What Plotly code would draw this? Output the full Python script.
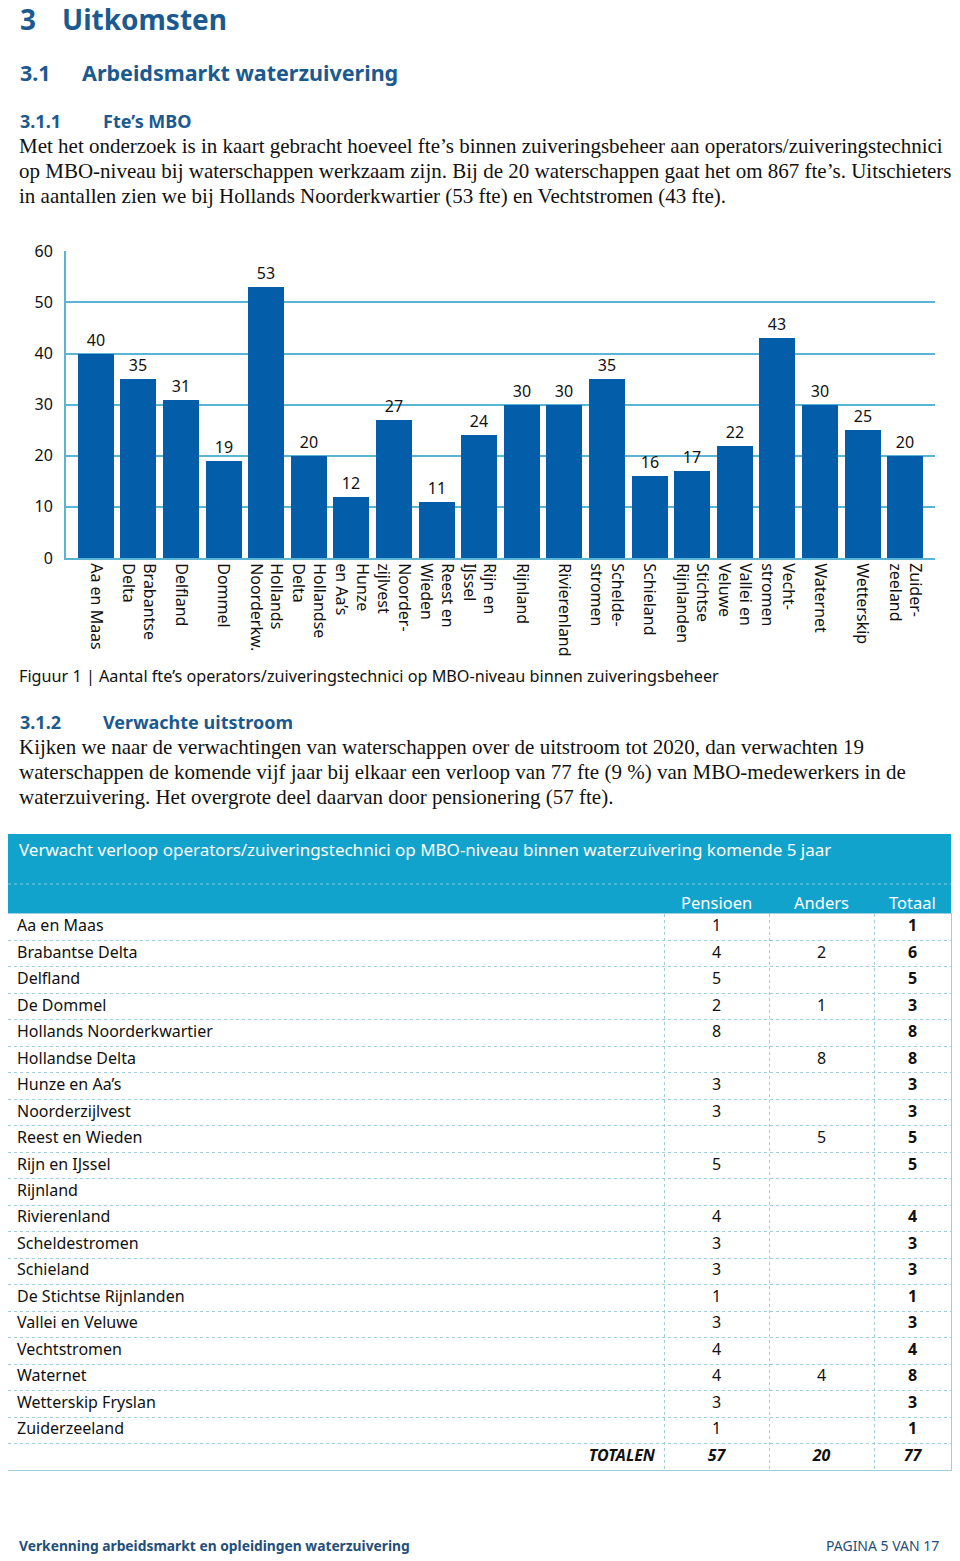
import plotly.graph_objects as go

W, H = 960, 1561

# ---------------- data ----------------
categories = ["Aa en Maas", "Brabantse<br>Delta", "Delfland", "Dommel", "Hollands<br>Noorderkw.",
              "Hollandse<br>Delta", "Hunze<br>en Aa’s", "Noorder-<br>zijlvest", "Reest en<br>Wieden",
              "Rijn en<br>IJssel", "Rijnland", "Rivierenland", "Schelde-<br>stromen", "Schieland",
              "Stichtse<br>Rijnlanden", "Vallei en<br>Veluwe", "Vecht-<br>stromen", "Waternet",
              "Wetterskip", "Zuider-<br>zeeland"]
fte_values = [40, 35, 31, 19, 53, 20, 12, 27, 11, 24, 30, 30, 35, 16, 17, 22, 43, 30, 25, 20]
y_ticks = [0, 10, 20, 30, 40, 50, 60]

table_title = "Verwacht verloop operators/zuiveringstechnici op MBO-niveau binnen waterzuivering komende 5 jaar"
table_columns = ["Pensioen", "Anders", "Totaal"]
waterschappen = ["Aa en Maas", "Brabantse Delta", "Delfland", "De Dommel", "Hollands Noorderkwartier",
                 "Hollandse Delta", "Hunze en Aa’s", "Noorderzijlvest", "Reest en Wieden", "Rijn en IJssel",
                 "Rijnland", "Rivierenland", "Scheldestromen", "Schieland", "De Stichtse Rijnlanden",
                 "Vallei en Veluwe", "Vechtstromen", "Waternet", "Wetterskip Fryslan", "Zuiderzeeland"]
pensioen = [1, 4, 5, 2, 8, None, 3, 3, None, 5, None, 4, 3, 3, 1, 3, 4, 4, 3, 1]
anders = [None, 2, None, 1, None, 8, None, None, 5, None, None, None, None, None, None, None, None, 4, None, None]
totaal = [1, 6, 5, 3, 8, 8, 3, 3, 5, 5, None, 4, 3, 3, 1, 3, 4, 8, 3, 1]
totalen_label = "TOTALEN"
totalen = [57, 20, 77]

# ---------------- styles ----------------
SANS = "Noto Sans"
SERIF = "Liberation Serif"
HEAD = "#1b5a90"
BAR = "#035da8"
GRID = "#5ab4d3"
CYAN = "#12a3cd"
TLINE = "#9fcfdd"

OFF = 8  # page offset of the figure


def px(x):
    return (x - OFF) / W


def py(y):
    return 1 - (y - OFF) / H


fig = go.Figure()

# ---------------- bar chart ----------------
fig.add_trace(go.Bar(
    x=list(range(len(fte_values))), y=fte_values, width=0.845,
    marker=dict(color=BAR, line=dict(width=0)),
    text=fte_values, textposition="outside",
    textfont=dict(family=SANS, size=16, color="#111"),
    cliponaxis=False, hoverinfo="skip", showlegend=False,
    xaxis="x", yaxis="y",
))

fig.update_layout(
    xaxis=dict(domain=[px(66), px(935)], range=[-0.7, len(fte_values) - 0.3],
               tickvals=list(range(len(categories))), ticktext=categories, tickangle=90,
               tickfont=dict(family=SANS, size=16, color="#111"), automargin=False,
               showgrid=False, zeroline=False, showline=True, linecolor=GRID, linewidth=2, ticks=""),
    yaxis=dict(domain=[py(558), py(251)], range=[0, 60.05], tickvals=y_ticks,
               tickfont=dict(family=SANS, size=16, color="#111"), automargin=False,
               showgrid=True, gridcolor=GRID, gridwidth=1.5, zeroline=False,
               showline=True, linecolor=GRID, linewidth=2, ticks="", ticklabelstandoff=8),
)

# ---------------- table (own axes) ----------------
n_rows = len(waterschappen) + 1
col_bounds = [8, 664, 769, 874, 951]
col_centers = [(col_bounds[i] + col_bounds[i + 1]) / 2 for i in range(1, 4)]
row_top, row_bottom = 914, 1470


def fmt(vals, bold=False):
    return ["" if v is None else (f"<b>{v}</b>" if bold else str(v)) for v in vals]


fig.update_layout(
    xaxis2=dict(domain=[px(col_bounds[0]), px(col_bounds[-1])], range=[col_bounds[0], col_bounds[-1]],
                anchor="y2", tickvals=col_bounds[1:-1], showticklabels=False, ticks="",
                showgrid=True, gridcolor=TLINE, gridwidth=1, griddash="dot", zeroline=False,
                showline=True, mirror=True, linecolor=TLINE, linewidth=1, automargin=False),
    yaxis2=dict(domain=[py(row_bottom), py(row_top)], range=[n_rows - 0.5, -0.5],
                anchor="x2", tickvals=[i + 0.5 for i in range(n_rows - 1)], showticklabels=False, ticks="",
                showgrid=True, gridcolor=TLINE, gridwidth=1, griddash="dot", zeroline=False,
                showline=True, mirror=True, linecolor=TLINE, linewidth=1, automargin=False),
)

rows = list(range(len(waterschappen)))
body_font = dict(family=SANS, size=16, color="#111")

fig.add_trace(go.Scatter(x=[17] * len(rows), y=rows, text=waterschappen, mode="text",
                         textposition="middle right", textfont=body_font,
                         xaxis="x2", yaxis="y2", hoverinfo="skip", showlegend=False, cliponaxis=False))
for cx, vals, bold in zip(col_centers, [pensioen, anders, totaal], [False, False, True]):
    fig.add_trace(go.Scatter(x=[cx] * len(rows), y=rows, text=fmt(vals, bold), mode="text",
                             textposition="middle center", textfont=body_font,
                             xaxis="x2", yaxis="y2", hoverinfo="skip", showlegend=False, cliponaxis=False))

# totals row
tot_row = len(waterschappen)
fig.add_trace(go.Scatter(x=[col_bounds[1] - 9], y=[tot_row], text=[f"<b><i>{totalen_label}</i></b>"],
                         mode="text", textposition="middle left", textfont=dict(family=SANS, size=16, color="#111"),
                         xaxis="x2", yaxis="y2", hoverinfo="skip", showlegend=False, cliponaxis=False))
fig.add_trace(go.Scatter(x=col_centers, y=[tot_row] * 3, text=[f"<b><i>{v}</i></b>" for v in totalen],
                         mode="text", textposition="middle center", textfont=dict(family=SANS, size=16, color="#111"),
                         xaxis="x2", yaxis="y2", hoverinfo="skip", showlegend=False, cliponaxis=False))

# header block
fig.add_shape(type="rect", xref="paper", yref="paper", x0=px(8), x1=px(951), y0=py(914), y1=py(834),
              fillcolor=CYAN, line=dict(width=0), layer="below")
fig.add_shape(type="line", xref="paper", yref="paper", x0=px(8), x1=px(951), y0=py(884), y1=py(884),
              line=dict(color="#7fcbe2", width=1, dash="dot"))

# ---------------- texts ----------------
annotations = []


def text(x, y, s, size, color="#111", family=SANS, anchor="left"):
    annotations.append(dict(x=px(x), y=py(y), xref="paper", yref="paper", text=s, showarrow=False,
                            xanchor=anchor, yanchor="middle", font=dict(family=family, size=size, color=color)))


for cx, name in zip(col_centers, table_columns):
    text(cx, 902, name, 16.5, "white", anchor="center")

text(18, 19, "<b>3</b>", 28, HEAD)
text(60, 19, "<b>Uitkomsten</b>", 28, HEAD)
text(18, 72, "<b>3.1</b>", 21.5, HEAD)
text(80, 72, "<b>Arbeidsmarkt waterzuivering</b>", 21.5, HEAD)
text(18, 121, "<b>3.1.1</b>", 18, HEAD)
text(101, 121, "<b>Fte’s MBO</b>", 18, HEAD)

p1 = ["Met het onderzoek is in kaart gebracht hoeveel fte’s binnen zuiveringsbeheer aan operators/zuiveringstechnici",
      "op MBO-niveau bij waterschappen werkzaam zijn. Bij de 20 waterschappen gaat het om 867 fte’s. Uitschieters",
      "in aantallen zien we bij Hollands Noorderkwartier (53 fte) en Vechtstromen (43 fte)."]
for i, line in enumerate(p1):
    text(17, 146 + 25 * i, line, 21, "#111", SERIF)

text(17, 676, "Figuur 1 | Aantal fte’s operators/zuiveringstechnici op MBO-niveau binnen zuiveringsbeheer", 16.2)

text(18, 722, "<b>3.1.2</b>", 18, HEAD)
text(101, 722, "<b>Verwachte uitstroom</b>", 18, HEAD)

p2 = ["Kijken we naar de verwachtingen van waterschappen over de uitstroom tot 2020, dan verwachten 19",
      "waterschappen de komende vijf jaar bij elkaar een verloop van 77 fte (9 %) van MBO-medewerkers in de",
      "waterzuivering. Het overgrote deel daarvan door pensionering (57 fte)."]
for i, line in enumerate(p2):
    text(17, 747 + 25 * i, line, 21, "#111", SERIF)

text(17, 850, table_title, 17, "white")

text(17, 1545, "<b>Verkenning arbeidsmarkt en opleidingen waterzuivering</b>", 13.8, "#1f4f7a")
text(941, 1545, "PAGINA 5 VAN 17", 14, "#1f4f7a", anchor="right")

fig.update_layout(width=W, height=H, margin=dict(l=0, r=0, t=0, b=0, pad=0),
                  paper_bgcolor="white", plot_bgcolor="white", showlegend=False,
                  annotations=annotations, bargap=0)

fig.write_html("out.html")
